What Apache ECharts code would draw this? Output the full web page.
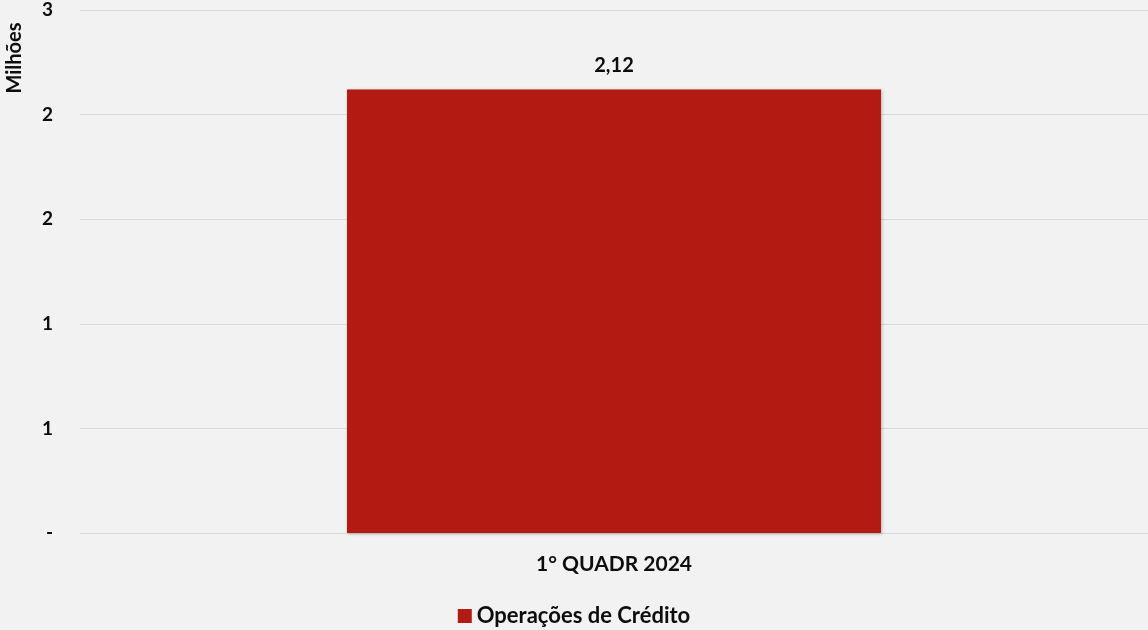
<!DOCTYPE html>
<html>
<head>
<meta charset="utf-8">
<script src="https://cdn.jsdelivr.net/npm/echarts@6/dist/echarts.min.js"></script>
<style>
html,body{margin:0;padding:0;background:#F2F2F2;}
#chart{width:1148px;height:630px;}
</style>
</head>
<body>
<div id="chart"></div>
<script>
const categories = ['1° QUADR 2024'];
const seriesName = 'Operações de Crédito';
const values = [2.12];
const yTicks = [0, 0.5, 1, 1.5, 2, 2.5];

const FONT = 'Lato, "Open Sans", sans-serif';
const TXT = '#0d0d0d';
const chart = echarts.init(document.getElementById('chart'));
chart.setOption({
  backgroundColor: '#F2F2F2',
  animation: false,
  grid: { left: 80, right: 0, top: 10, bottom: 97, containLabel: false },
  legend: {
    data: [seriesName],
    top: 605,
    left: 'center',
    padding: 0,
    itemWidth: 14,
    itemHeight: 14,
    itemGap: 5,
    icon: 'rect',
    textStyle: { fontFamily: FONT, fontWeight: 'bold', fontSize: 22, color: TXT }
  },
  graphic: [{
    type: 'text',
    x: 15, y: 58,
    rotation: Math.PI / 2,
    style: {
      text: 'Milhões',
      fontFamily: FONT, fontWeight: 'bold', fontSize: 20, fill: TXT,
      textAlign: 'center', textVerticalAlign: 'middle'
    }
  }],
  xAxis: {
    type: 'category',
    data: categories,
    axisLine: { show: true, lineStyle: { color: '#D9D9D9' } },
    axisTick: { show: false },
    axisLabel: { margin: 21, fontFamily: FONT, fontWeight: 'bold', fontSize: 21, color: TXT }
  },
  yAxis: {
    type: 'value',
    min: yTicks[0],
    max: yTicks[yTicks.length - 1],
    interval: 0.5,
    axisLine: { show: false },
    axisTick: { show: false },
    splitLine: { lineStyle: { color: '#D9D9D9', width: 1 } },
    axisLabel: {
      margin: 27,
      fontFamily: FONT, fontWeight: 'bold', fontSize: 19, color: TXT,
      formatter: v => v === 0 ? '-' : String(Math.round(v))
    }
  },
  series: [{
    name: seriesName,
    type: 'bar',
    data: values,
    barWidth: '50%',
    itemStyle: {
      color: '#B31B12',
      shadowColor: 'rgba(0,0,0,0.25)',
      shadowBlur: 3,
      shadowOffsetX: 1,
      shadowOffsetY: 1
    },
    label: {
      show: true,
      position: 'top',
      distance: 14,
      fontFamily: FONT, fontWeight: 'bold', fontSize: 20, color: TXT,
      formatter: p => p.value.toFixed(2).replace('.', ',')
    }
  }]
});
</script>
</body>
</html>
